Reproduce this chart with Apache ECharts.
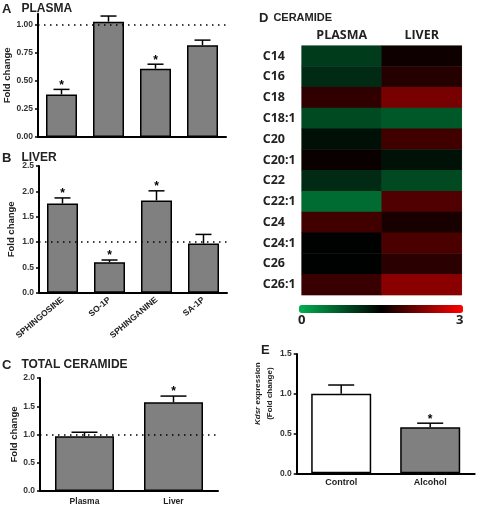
<!DOCTYPE html>
<html><head><meta charset="utf-8">
<script src="https://cdn.jsdelivr.net/npm/echarts@6/dist/echarts.min.js"></script>
<style>html,body{margin:0;padding:0;background:#fff}#c{width:478px;height:506px}</style>
</head><body><div id="c"></div>
<script>
const sphingoidCats = ['SPHINGOSINE','SO-1P','SPHINGANINE','SA-1P'];
const plasmaMeans = [0.38, 1.03, 0.61, 0.82];
const plasmaErr = [0.045, 0.05, 0.04, 0.045];
const plasmaSig = [true, false, true, false];
const liverMeans = [1.76, 0.60, 1.82, 0.97];
const liverErr = [0.11, 0.045, 0.19, 0.18];
const liverSig = [true, true, true, false];
const plasmaTicks = [0, 0.25, 0.5, 0.75, 1.0];
const liverTicks = [0, 0.5, 1.0, 1.5, 2.0, 2.5];
const ceramideCats = ['Plasma','Liver'];
const ceramideMeans = [0.97, 1.57];
const ceramideErr = [0.07, 0.11];
const ceramideSig = [false, true];
const ceramideTicks = [0, 0.5, 1.0, 1.5, 2.0];
const kdsrCats = ['Control','Alcohol'];
const kdsrMeans = [1.0, 0.58];
const kdsrErr = [0.11, 0.05];
const kdsrSig = [false, true];
const kdsrTicks = [0, 0.5, 1.0, 1.5];
const species = ['C14','C16','C18','C18:1','C20','C20:1','C22','C22:1','C24','C24:1','C26','C26:1'];
const tissues = ['PLASMA','LIVER'];
const plasmaRatio = [1.00, 1.14, 1.78, 0.87, 1.36, 1.56, 1.14, 0.58, 1.88, 1.48, 1.48, 1.83];
const liverRatio = [1.59, 1.72, 2.20, 0.76, 1.88, 1.35, 0.88, 1.97, 1.65, 1.94, 1.75, 2.31];
const scaleLabels = ['0','3'];

const F = "'Liberation Sans', Arial, sans-serif";
const FC = "'Open Sans', 'Liberation Sans', sans-serif";
const TXT = '#222';

function yAx(idx, max, ticks, dec, name, nameGap, extra) {
  return Object.assign({
    type:'value', gridIndex: idx, min:0, max:max,
    axisLine:{show:true, lineStyle:{color:'#000', width:2}},
    axisTick:{show:true, length:3, lineStyle:{color:'#000', width:1.5}, customValues: ticks},
    axisLabel:{fontFamily:F, fontSize:8.5, fontWeight:'bold', color:'#333', margin:5,
      customValues: ticks, formatter: v => v.toFixed(dec)},
    splitLine:{show:false},
    name: name, nameLocation:'middle', nameGap: nameGap, nameRotate: 90,
    nameTextStyle:{fontFamily:F, fontSize:9.5, fontWeight:'bold', color:TXT}
  }, extra || {});
}
function xAx(idx, cats, labelOpts) {
  return {
    type:'category', gridIndex: idx, data: cats,
    axisLine:{show:true, lineStyle:{color:'#000', width:2}},
    axisTick:{show:false},
    axisLabel: Object.assign({fontFamily:F, fontSize:9, fontWeight:'bold', color:TXT, interval:0, margin:5}, labelOpts || {})
  };
}
function barSeries(idx, means, width, color, withRef) {
  const s = {
    type:'bar', xAxisIndex: idx, yAxisIndex: idx, data: means, barWidth: width,
    itemStyle:{color: color, borderColor:'#000', borderWidth:1.5},
    silent:true, z:2
  };
  if (withRef) {
    s.markLine = {silent:true, symbol:['none','none'], label:{show:false},
      lineStyle:{type:[1.5,4.5], color:'#000', width:1.5}, data:[{yAxis:1}]};
  }
  return s;
}
function errSeries(idx, means, errs, sig, half) {
  return {
    type:'custom', xAxisIndex: idx, yAxisIndex: idx, z: 5, silent:true,
    data: means.map((m,i)=>[i, m, m+errs[i], sig[i]?1:0]),
    renderItem: (params, api) => {
      const x = api.value(0);
      const p0 = api.coord([x, api.value(1)]);
      const p1 = api.coord([x, api.value(2)]);
      const children = [
        {type:'line', shape:{x1:p0[0], y1:p0[1], x2:p1[0], y2:p1[1]}, style:{stroke:'#000', lineWidth:1.5}},
        {type:'line', shape:{x1:p1[0]-half, y1:p1[1], x2:p1[0]+half, y2:p1[1]}, style:{stroke:'#000', lineWidth:1.5}}
      ];
      if (api.value(3)) children.push({type:'text', style:{text:'*', x:p1[0], y:p1[1]-4,
        align:'center', verticalAlign:'middle', font:"bold 12px 'Liberation Sans', Arial", fill:'#000'}});
      return {type:'group', children};
    }
  };
}

const heatData = [];
species.forEach((s,i)=>{ heatData.push([0, i, plasmaRatio[i]]); heatData.push([1, i, liverRatio[i]]); });

const rich = {
  a:{fontFamily:F, fontSize:13, fontWeight:'bold', color:TXT},
  b:{fontFamily:F, fontSize:12, fontWeight:'bold', color:TXT}
};
function ttl(text, left, top, r) {
  return {text, left, top, padding:0, textStyle:{rich: r || rich}};
}

const option = {
  animation:false,
  backgroundColor:'#fff',
  title:[
    ttl('{a|A}  {b|PLASMA}', 2, 0),
    ttl('{a|B}  {b|LIVER}', 2, 149),
    ttl('{a|C}  {b|TOTAL CERAMIDE}', 2, 356),
    ttl('{a|D} {c|CERAMIDE}', 259, 9, Object.assign({c:{fontFamily:F, fontSize:11, fontWeight:'bold', color:TXT}}, rich)),
    ttl('{a|E}', 261, 344),
    {text: scaleLabels[0], left: 298, top: 314, padding:0, textStyle:{fontFamily:FC, fontSize:13, fontWeight:'bold', color:TXT}},
    {text: scaleLabels[1], left: 456, top: 314, padding:0, textStyle:{fontFamily:FC, fontSize:13, fontWeight:'bold', color:TXT}}
  ],
  grid:[
    {left:38, top:13.8, width:188, height:123.2},
    {left:39, top:166, width:188, height:126.7},
    {left:40, top:378, width:178, height:115},
    {left:296.7, top:354, width:178, height:119.3},
    {left:301.7, top:45.7, width:160, height:249.3, show:true, borderColor:'#d0d0d0', borderWidth:1, backgroundColor:'transparent'}
  ],
  xAxis:[
    xAx(0, sphingoidCats, {show:false}),
    xAx(1, sphingoidCats, {rotate:40, fontSize:8.5, margin:6}),
    xAx(2, ceramideCats, {fontSize:8.5, margin:6}),
    xAx(3, kdsrCats, {fontSize:9, margin:5}),
    {type:'category', gridIndex:4, data:tissues, position:'top',
      axisLine:{show:false}, axisTick:{show:false},
      axisLabel:{fontFamily:FC, fontSize:12.5, fontWeight:'bold', color:TXT, margin:4}}
  ],
  yAxis:[
    yAx(0, 1.1, plasmaTicks, 2, 'Fold change', 26),
    yAx(1, 2.5, liverTicks, 1, 'Fold change', 23),
    yAx(2, 2.0, ceramideTicks, 1, 'Fold change', 21),
    yAx(3, 1.5, kdsrTicks, 1, '{i|Kdsr} expression\n(Fold change)', 19, {
      nameTextStyle:{fontFamily:"'Liberation Sans Narrow', 'Liberation Sans', Arial", fontSize:8, fontWeight:'bold', color:TXT, lineHeight:12,
        padding:[0,0,0,40],
        rich:{i:{fontStyle:'italic', fontFamily:"'Liberation Sans Narrow', 'Liberation Sans', Arial", fontSize:8, fontWeight:'bold', color:TXT}}}
    }),
    {type:'category', gridIndex:4, data:species, inverse:true,
      axisLine:{show:false}, axisTick:{show:false},
      axisLabel:{fontFamily:FC, fontSize:12.5, fontWeight:'bold', color:TXT, align:'left', margin:39}}
  ],
  visualMap:{
    type:'continuous', min:0, max:3, seriesIndex:8, orient:'horizontal',
    left:299, top:305, itemWidth:8, itemHeight:164, padding:0, calculable:false, hoverLink:false,
    inRange:{color:['#00b050','#000000','#ff0000']}
  },
  series:[
    barSeries(0, plasmaMeans, 31, '#808080', true),
    barSeries(1, liverMeans, 31, '#808080', true),
    barSeries(2, ceramideMeans, 59, '#808080', true),
    barSeries(3, kdsrMeans.map((v,i)=>({value:v, itemStyle:{color: i===0 ? '#ffffff' : '#808080'}})), 60, '#808080', false),
    errSeries(0, plasmaMeans, plasmaErr, plasmaSig, 8),
    errSeries(1, liverMeans, liverErr, liverSig, 8),
    errSeries(2, ceramideMeans, ceramideErr, ceramideSig, 13),
    errSeries(3, kdsrMeans, kdsrErr, kdsrSig, 13),
    {type:'heatmap', xAxisIndex:4, yAxisIndex:4, data:heatData, silent:true, itemStyle:{borderWidth:0}}
  ]
};
const chart = echarts.init(document.getElementById('c'), null, {renderer:'canvas'});
chart.setOption(option);
</script></body></html>
